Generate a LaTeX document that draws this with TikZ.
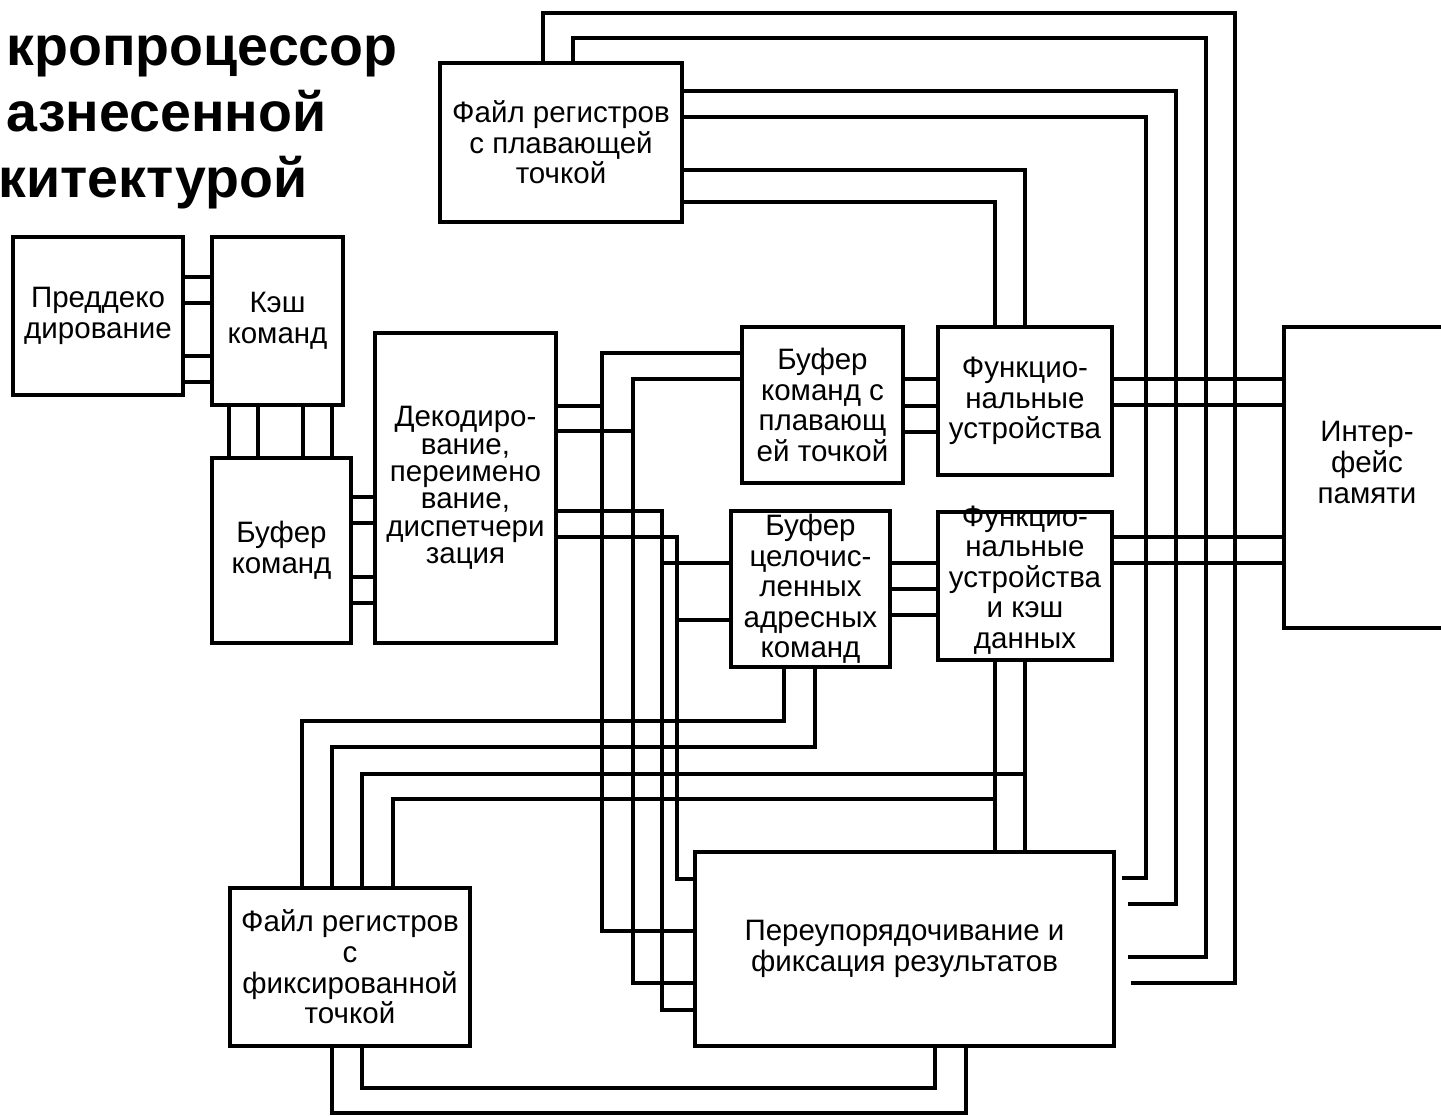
\documentclass[tikz,border=0pt]{standalone}
\usepackage{fontspec}
\setmainfont{Liberation Sans}
\usepackage{tikz}
\usetikzlibrary{positioning}

\newcommand{\blkfont}{\fontsize{8.4pt}{8.7pt}\selectfont}

\begin{document}
\begin{tikzpicture}[
    x=0.1mm, y=-0.1mm,
    blk/.style={draw, line width=1.1pt, inner sep=0pt, align=center, font=\blkfont},
    bus/.style={line width=1.1pt},
    ttl/.style={font=\fontsize{15.8pt}{18pt}\selectfont\bfseries,
                anchor=base west, inner sep=0pt},
  ]
  \path[use as bounding box, fill=white] (0,0) rectangle (1441,1116);

  % title
  \node[ttl] (t1) at (6,65)  {кропроцессор};
  \node[ttl] (t2) at (6,131) {азнесенной};
  \node[ttl] (t3) at (-2,197) {китектурой};

  % front end
  \node[blk, minimum width=17mm,   minimum height=15.8mm] (pre)   at (98,316)      {Преддеко\\дирование};
  \node[blk, minimum width=13.1mm, minimum height=16.8mm] (cache) at (277.5,321)   {Кэш\\команд};
  \node[blk, minimum width=13.9mm, minimum height=18.5mm] (ibuf)  at (281.5,550.5) {Буфер\\команд};
  \node[blk, minimum width=18.1mm, minimum height=31mm,
        font=\fontsize{8.4pt}{7.8pt}\selectfont] (dec) at (465.5,488)
    {Декодиро-\\вание,\\переимено\\вание,\\диспетчери\\зация};

  % register files
  \node[blk, minimum width=24.2mm, minimum height=15.9mm] (frpt) at (561,142.5) {Файл регистров\\с плавающей\\точкой};
  \node[blk, minimum width=24mm,   minimum height=15.8mm] (frft) at (350,967)   {Файл регистров\\с\\фиксированной\\точкой};

  % buffers, units, memory, reorder
  \node[blk, minimum width=16.1mm, minimum height=15.6mm] (fpbuf)  at (822.5,405) {Буфер\\команд с\\плавающ\\ей точкой};
  \node[blk, minimum width=17.4mm, minimum height=14.8mm] (fu1)    at (1025,401)  {Функцио-\\нальные\\устройства};
  \node[blk, minimum width=15.9mm, minimum height=15.6mm] (intbuf) at (810.5,589) {Буфер\\целочис-\\ленных\\адресных\\команд};
  \node[blk, minimum width=17.4mm, minimum height=14.8mm,
        label={[align=center, font=\blkfont, yshift=0.6mm]center:Функцио-\\нальные\\устройства\\и кэш\\данных}]
        (fu2) at (1025,586) {};
  \node[blk, minimum width=16.6mm, minimum height=30.1mm,
        label={[align=center, font=\blkfont, yshift=1.5mm]center:Интер-\\фейс\\памяти}]
        (mem) at (1367,477.5) {};
  \node[blk, minimum width=41.9mm, minimum height=19.4mm] (rob) at (904.5,949) {Переупорядочивание и\\фиксация результатов};

  % bus junctions
  \coordinate (ja) at (602,406);
  \coordinate (jb) at (633,431);
  \coordinate (jc) at (662,563);
  \coordinate (jd) at (677,620);
  \coordinate (je) at (995,799);
  \coordinate (jf) at (1025,774);

  % fetch path
  \foreach \y in {277,303,356,382}
    \draw[bus] (pre.east |- 0,\y) -- (cache.west |- 0,\y);
  \foreach \x in {229,258,303,332}
    \draw[bus] (cache.south -| \x,0) -- (ibuf.north -| \x,0);
  \foreach \y in {497,523,577,603}
    \draw[bus] (ibuf.east |- 0,\y) -- (dec.west |- 0,\y);

  % dispatch
  \draw[bus] (fpbuf.west |- 0,353) -| (602,931) -- (rob.west |- 0,931);
  \draw[bus] (dec.east |- ja) -- (ja);
  \draw[bus] (fpbuf.west |- 0,379) -| (633,983) -- (rob.west |- 0,983);
  \draw[bus] (dec.east |- jb) -- (jb);
  \draw[bus] (dec.east |- 0,511) -| (662,1010) -- (rob.west |- 0,1010);
  \draw[bus] (jc) -- (intbuf.west |- jc);
  \draw[bus] (dec.east |- 0,537) -| (677,879) -- (rob.west |- 0,879);
  \draw[bus] (jd) -- (intbuf.west |- jd);

  % issue to the units
  \foreach \y in {379,406,432}
    \draw[bus] (fpbuf.east |- 0,\y) -- (fu1.west |- 0,\y);
  \foreach \y in {563,589,615}
    \draw[bus] (intbuf.east |- 0,\y) -- (fu2.west |- 0,\y);
  \foreach \y in {379,405}
    \draw[bus] (fu1.east |- 0,\y) -- (mem.west |- 0,\y);
  \foreach \y in {537,563}
    \draw[bus] (fu2.east |- 0,\y) -- (mem.west |- 0,\y);
  \foreach \x in {995,1025}
    \draw[bus] (fu2.south -| \x,0) -- (rob.north -| \x,0);

  % floating point register file
  \draw[bus] (frpt.north -| 543,0) |- (1235,13) |- ([xshift=1.5mm]rob.east |- 0,983);
  \draw[bus] (frpt.north -| 573,0) |- (1206,38) |- ([xshift=1.2mm]rob.east |- 0,957);
  \draw[bus] (frpt.east |- 0,91)  -| (1176,904) -- ([xshift=1.2mm]rob.east |- 0,904);
  \draw[bus] (frpt.east |- 0,117) -| (1146,878) -- ([xshift=0.6mm]rob.east |- 0,878);
  \draw[bus] (frpt.east |- 0,170) -| (fu1.north -| 1025,0);
  \draw[bus] (frpt.east |- 0,202) -| (fu1.north -| 995,0);

  % fixed point register file
  \draw[bus] (frft.north -| 302,0) |- (784,721) -- (intbuf.south -| 784,0);
  \draw[bus] (frft.north -| 332,0) |- (815,747) -- (intbuf.south -| 815,0);
  \draw[bus] (frft.north -| 362,0) |- (jf);
  \draw[bus] (frft.north -| 393,0) |- (je);
  \draw[bus] (frft.south -| 332,0) |- (966,1113) -- (rob.south -| 966,0);
  \draw[bus] (frft.south -| 362,0) |- (935,1088) -- (rob.south -| 935,0);
\end{tikzpicture}
\end{document}
